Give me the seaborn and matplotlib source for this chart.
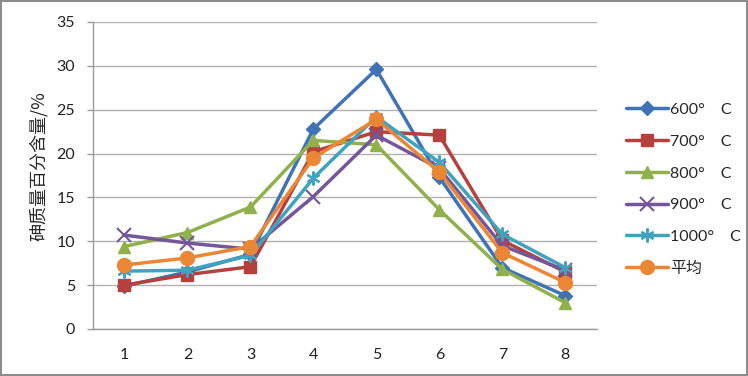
import numpy as np
import pandas as pd
import seaborn as sns
import matplotlib
matplotlib.use("Agg")
import matplotlib.pyplot as plt

# sample positions and series values
positions = [1, 2, 3, 4, 5, 6, 7, 8]
t600 = [4.9, 6.5, 8.5, 22.8, 29.6, 17.3, 7.0, 3.8]
t700 = [5.0, 6.2, 7.1, 20.2, 22.5, 22.1, 10.1, 6.5]
t800 = [9.4, 11.0, 13.9, 21.5, 21.0, 13.6, 6.8, 3.0]
t900 = [10.7, 9.8, 9.1, 15.1, 22.1, 18.3, 9.5, 6.7]
t1000 = [6.6, 6.7, 8.4, 17.2, 24.2, 19.0, 10.8, 7.0]
average = [7.3, 8.1, 9.4, 19.5, 23.9, 17.9, 8.7, 5.3]

labels = ["600°\u3000C", "700°\u3000C", "800°\u3000C", "900°\u3000C", "1000°\u3000C", "平均"]
series = [t600, t700, t800, t900, t1000, average]
colors = ["#3F73B5", "#B5413F", "#8FB04A", "#74569A", "#3FA3BF", "#EA8634"]
markers = ["D", "s", "^", "x", (6, 2, 0), "o"]
msizes = [7, 9, 9, 10, 10, 10]

sns.set_theme(style="white")
plt.rcParams["font.family"] = ["Lato", "Noto Sans CJK SC", "DejaVu Sans"]

fig = plt.figure(figsize=(7.48, 3.76), dpi=100)
fig.patch.set_edgecolor("#8c8c8c")
fig.patch.set_linewidth(1.5)
ax = fig.add_axes([0.1243, 0.125, 0.6735, 0.8165])

for lab, vals, c, m, ms in zip(labels, series, colors, markers, msizes):
    sns.lineplot(x=positions, y=vals, ax=ax, color=c, marker=m, markersize=ms,
                 markeredgecolor=c, markeredgewidth=1.5 if m in ("x", (6, 2, 0)) else 1,
                 linewidth=2.5, label=lab)

ax.set_xlim(0.5, 8.5)
ax.set_ylim(0, 35)
ax.set_xticks(positions)
ax.set_yticks(np.arange(0, 36, 5))
ax.yaxis.grid(True, color="#b0b0b0", linewidth=1)
ax.set_axisbelow(True)
for s in ["top", "right"]:
    ax.spines[s].set_visible(False)
for s in ["left", "bottom"]:
    ax.spines[s].set_color("#9a9a9a")
    ax.spines[s].set_linewidth(1)
ax.tick_params(axis="y", left=True, length=4, width=1, color="#9a9a9a", direction="out",
               pad=9, labelsize=11.5, labelcolor="#222222")
ax.tick_params(axis="x", length=0, pad=14, labelsize=11.5, labelcolor="#222222")

ax.set_ylabel("砷质量百分含量/%", fontsize=13, family=["Noto Sans CJK SC", "DejaVu Sans"])
ax.yaxis.set_label_coords(-0.09, 0.53)

leg = ax.legend(loc="center left", bbox_to_anchor=(1.03, 0.455), frameon=False,
                handlelength=2.6, labelspacing=1.1, handletextpad=0.15,
                prop={"family": ["Lato", "Noto Sans CJK SC"], "size": 11.5})

fig.savefig("out.png", dpi=100)
